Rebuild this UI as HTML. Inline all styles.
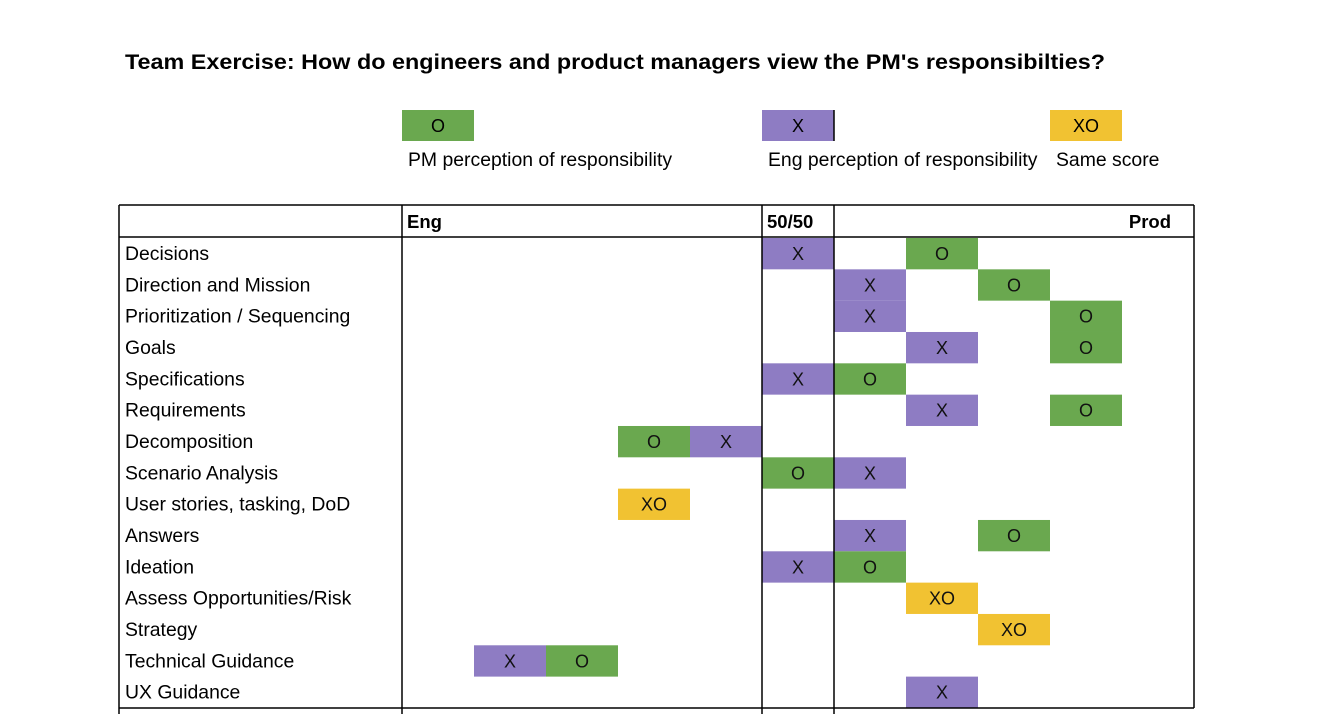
<!DOCTYPE html>
<html><head><meta charset="utf-8"><style>
body{margin:0;background:#fff;font-family:"Liberation Sans",sans-serif}
</style></head><body>
<svg width="1317" height="714" viewBox="0 0 1317 714" xmlns="http://www.w3.org/2000/svg" font-family="Liberation Sans, sans-serif">
<text x="125" y="69" font-size="21.5" font-weight="bold" fill="#000" textLength="980" lengthAdjust="spacingAndGlyphs">Team Exercise: How do engineers and product managers view the PM's responsibilties?</text>
<g>
<rect x="402" y="110" width="72" height="31" fill="#6aa84f"/>
<text x="438" y="132" font-size="18" text-anchor="middle">O</text>
<text x="408" y="166" font-size="19.4">PM perception of responsibility</text>
<rect x="762" y="110" width="72" height="31" fill="#8e7cc3"/>
<line x1="834" y1="110" x2="834" y2="141" stroke="#000" stroke-width="1.5"/>
<text x="798" y="132" font-size="18" text-anchor="middle">X</text>
<text x="768" y="166" font-size="19.4">Eng perception of responsibility</text>
<rect x="1050" y="110" width="72" height="31" fill="#f1c232"/>
<text x="1086" y="132" font-size="18" text-anchor="middle">XO</text>
<text x="1056" y="166" font-size="19.4">Same score</text>
</g>
<g id="grid"></g>
<g id="marks"></g>
<g id="lines"></g>
</svg>
<script>
const categories=["Decisions","Direction and Mission","Prioritization / Sequencing","Goals","Specifications","Requirements","Decomposition","Scenario Analysis","User stories, tasking, DoD","Answers","Ideation","Assess Opportunities/Risk","Strategy","Technical Guidance","UX Guidance"];
const engCol=[5,6,6,7,5,7,4,6,null,6,5,null,null,1,7];
const pmCol=[7,8,9,9,6,9,3,5,null,8,6,null,null,2,null];
const sameCol=[null,null,null,null,null,null,null,null,3,null,null,7,8,null,null];
const NS="http://www.w3.org/2000/svg";
const colX=i=>402+i*72, rowY=i=>238+i*31.33, CW=72, RH=31.33;
function el(tag,attrs,parent){const e=document.createElementNS(NS,tag);for(const k in attrs)e.setAttribute(k,attrs[k]);parent.appendChild(e);return e;}
const marks=document.getElementById('marks'), lines=document.getElementById('lines');
categories.forEach((c,i)=>{
  const t=el('text',{x:125,y:rowY(i)+22,'font-size':19.4,fill:'#000'},marks);t.textContent=c;
  
  
  [[engCol[i],'#8e7cc3','X'],[pmCol[i],'#6aa84f','O'],[sameCol[i],'#f1c232','XO']].forEach(([col,fill,lab])=>{
    if(col==null)return;
    const r=el('rect',{x:colX(col),y:rowY(i),width:CW,height:RH,fill:fill},marks);
    
    
    const tx=el('text',{x:colX(col)+CW/2,y:rowY(i)+22,'font-size':18,'text-anchor':'middle',fill:'#111'},marks);tx.textContent=lab;
  });
});
const L=(x1,y1,x2,y2)=>el('line',{x1,y1,x2,y2,stroke:'#000','stroke-width':1.5},lines);
L(119,205,1194,205);L(119,237,1194,237);L(119,708,1194,708);
L(119,205,119,714);L(1194,205,1194,708);L(402,205,402,714);L(762,205,762,714);L(834,205,834,714);
const hdr=[["Eng",407,'start'],["50/50",767,'start'],["Prod",1171,'end']];
hdr.forEach(([t,x,a])=>{const e=el('text',{x,y:228,'font-size':18.5,'font-weight':'bold','text-anchor':a},lines);e.textContent=t;

});
</script>
</body></html>
